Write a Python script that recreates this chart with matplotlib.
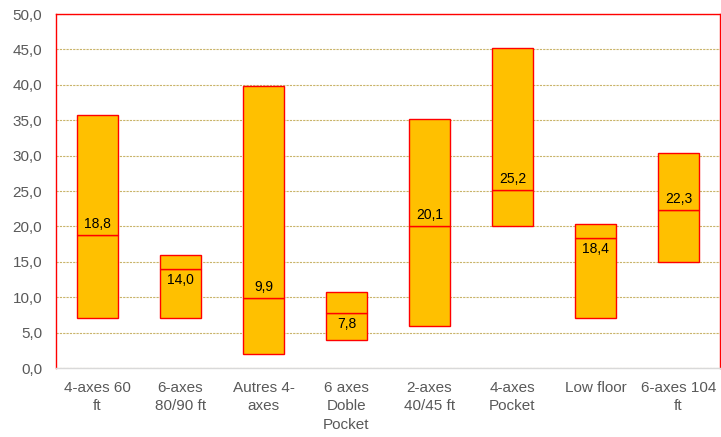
import matplotlib
matplotlib.use("Agg")
import matplotlib.pyplot as plt

categories = ["4-axes 60\nft", "6-axes\n80/90 ft", "Autres 4-\naxes", "6 axes\nDoble\nPocket",
              "2-axes\n40/45 ft", "4-axes\nPocket", "Low floor", "6-axes 104\nft"]
low = [7.0, 7.0, 2.0, 4.0, 5.9, 20.0, 7.0, 15.0]
median = [18.8, 14.0, 9.9, 7.8, 20.1, 25.2, 18.4, 22.3]
high = [35.8, 16.0, 39.9, 10.7, 35.1, 45.2, 20.3, 30.3]
yticks = [0, 5, 10, 15, 20, 25, 30, 35, 40, 45, 50]

plt.rcParams['font.family'] = ['Liberation Sans', 'DejaVu Sans']
fig = plt.figure(figsize=(7.21, 4.37), dpi=100)
ax = fig.add_axes([56/721, 69/437, 664/721, 354/437])

x = list(range(len(categories)))
lower = [m - l for m, l in zip(median, low)]
upper = [h - m for h, m in zip(high, median)]
ax.bar(x, lower, bottom=low, width=0.5, color="#FFC000", edgecolor="#FF0000", linewidth=1.0, zorder=3)
ax.bar(x, upper, bottom=median, width=0.5, color="#FFC000", edgecolor="#FF0000", linewidth=1.0, zorder=3)
for xi, m, u in zip(x, median, upper):
    dy = 11 if u > 3 else -11
    ax.annotate(f"{m:.1f}".replace(".", ","), (xi, m), xytext=(0, dy), textcoords="offset pixels",
                ha="center", va="center", fontsize=10, color="black", zorder=4)

ax.set_xlim(-0.5, len(categories) - 0.5)
ax.set_ylim(0, 50)
ax.set_yticks(yticks)
ax.set_yticklabels([f"{v:.1f}".replace(".", ",") for v in yticks], fontsize=11, color="#595959")
ax.set_xticks(x)
ax.set_xticklabels(categories, fontsize=11, color="#595959", linespacing=1.45)
ax.tick_params(axis="y", length=0, pad=10)
ax.tick_params(axis="x", length=0, pad=9)
ax.yaxis.grid(True, color="#C9B46A", linestyle=(0, (2, 1)), linewidth=0.8, zorder=0)
ax.set_axisbelow(True)
for s in ["left", "top", "right"]:
    ax.spines[s].set_color("#FF0000")
    ax.spines[s].set_linewidth(1.0)
ax.spines["bottom"].set_color("#D9D9D9")
ax.spines["bottom"].set_linewidth(1.0)

fig.savefig("out.png", dpi=100)
